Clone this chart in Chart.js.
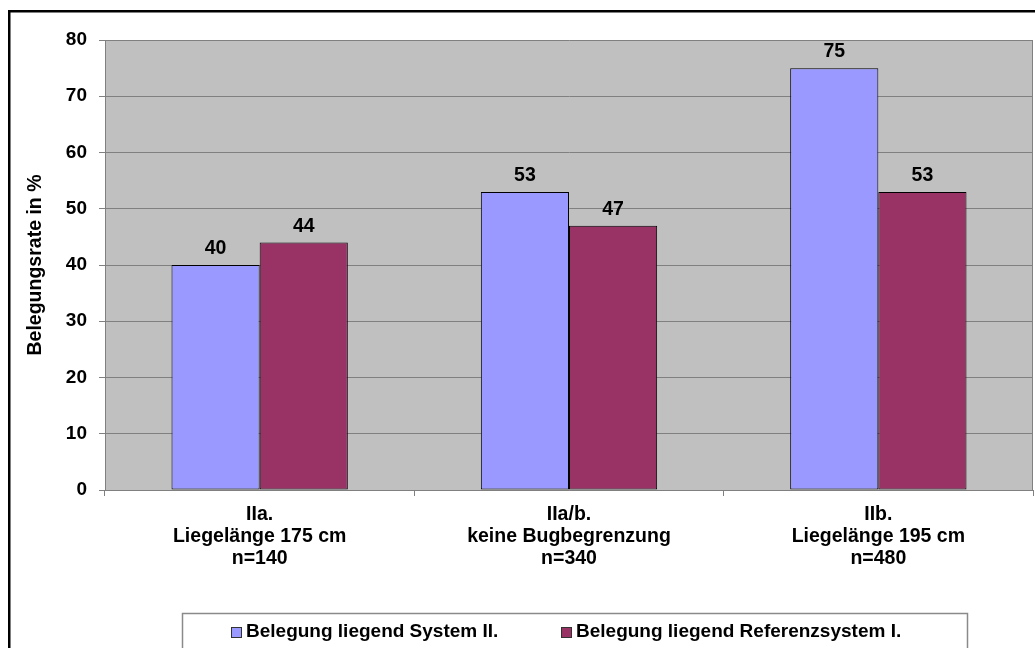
<!DOCTYPE html>
<html lang="de">
<head>
<meta charset="utf-8">
<title>Belegungsrate</title>
<script src="https://cdn.jsdelivr.net/npm/chart.js@4/dist/chart.umd.min.js"></script>
<style>
  html, body { margin: 0; padding: 0; background: #ffffff; overflow: hidden; }
  #wrap { position: relative; width: 1035px; height: 648px; }
</style>
</head>
<body>
<div id="wrap"><canvas id="chart"></canvas></div>
<script>
// Kategorien (mehrzeilige Achsenbeschriftung)
const categories = [
  ["IIa.", "Liegelänge 175 cm", "n=140"],
  ["IIa/b.", "keine Bugbegrenzung", "n=340"],
  ["IIb.", "Liegelänge 195 cm", "n=480"]
];
// Belegungsraten in %
const systemII = [40, 53, 75];
const referenzI = [44, 47, 53];
// Reihennamen
const seriesNames = ["Belegung liegend System II.", "Belegung liegend Referenzsystem I."];
const seriesColors = ["#9999FF", "#993366"];
// y-Achse
const yMin = 0, yMax = 80, yStep = 10;
const yTitle = "Belegungsrate in %";

const FONT = "'Liberation Sans', Arial, sans-serif";

// Rahmen, Hintergrund der Zeichenfläche, Werte über den Balken und Legende
const decor = {
  id: 'decor',
  beforeDraw(chart) {
    const { ctx, chartArea: a } = chart;
    ctx.save();
    ctx.fillStyle = '#C0C0C0';
    ctx.fillRect(a.left, a.top, a.right - a.left, a.bottom - a.top);
    // äußerer Rahmen
    ctx.fillStyle = '#000000';
    ctx.fillRect(8, 10, chart.width, 2.5);
    ctx.fillRect(8, 10, 2.5, chart.height);
    ctx.restore();
  },
  afterDraw(chart) {
    const { ctx, chartArea: a } = chart;
    ctx.save();
    // rechte Begrenzung der Zeichenfläche
    ctx.strokeStyle = '#808080';
    ctx.lineWidth = 1;
    ctx.beginPath();
    ctx.moveTo(Math.round(a.right) - 0.5, a.top);
    ctx.lineTo(Math.round(a.right) - 0.5, a.bottom);
    ctx.stroke();

    // Legende
    const lx = 182.5, ly = 613.5, lw = 785, lh = 60;
    ctx.fillStyle = '#ffffff';
    ctx.fillRect(lx, ly, lw, lh);
    ctx.strokeStyle = '#8a8a8a';
    ctx.lineWidth = 1.5;
    ctx.strokeRect(lx, ly, lw, lh);
    const items = [{ sx: 231, tx: 246 }, { sx: 561, tx: 576 }];
    ctx.font = `bold 19px ${FONT}`;
    ctx.textBaseline = 'middle';
    ctx.textAlign = 'left';
    chart.data.datasets.forEach((ds, i) => {
      const it = items[i];
      ctx.fillStyle = ds.backgroundColor;
      ctx.fillRect(it.sx + 0.5, 627.5, 10, 10);
      ctx.strokeStyle = '#333333';
      ctx.lineWidth = 1;
      ctx.strokeRect(it.sx + 0.5, 627.5, 10, 10);
      ctx.fillStyle = '#000000';
      ctx.fillText(ds.label, it.tx, 632);
    });
    ctx.restore();
  },
  afterDatasetsDraw(chart) {
    const { ctx } = chart;
    ctx.save();
    ctx.font = `bold 19.5px ${FONT}`;
    ctx.fillStyle = '#000000';
    ctx.textAlign = 'center';
    ctx.textBaseline = 'alphabetic';
    chart.data.datasets.forEach((ds, di) => {
      const meta = chart.getDatasetMeta(di);
      meta.data.forEach((bar, i) => {
        ctx.fillText(String(ds.data[i]), bar.x, bar.y - 11);
      });
    });
    ctx.restore();
  }
};

new Chart(document.getElementById('chart'), {
  type: 'bar',
  data: {
    labels: categories,
    datasets: [
      { label: seriesNames[0], data: systemII, backgroundColor: seriesColors[0] },
      { label: seriesNames[1], data: referenzI, backgroundColor: seriesColors[1] }
    ]
  },
  options: {
    responsive: true,
    maintainAspectRatio: false,
    animation: false,
    devicePixelRatio: 1,
    layout: { padding: { top: 40, right: 2, bottom: 0, left: 0 } },
    datasets: {
      bar: {
        categoryPercentage: 0.57,
        barPercentage: 1.0,
        borderColor: '#000000',
        borderWidth: 1,
        borderSkipped: false
      }
    },
    plugins: {
      legend: { display: false },
      tooltip: { enabled: false },
      title: { display: false }
    },
    scales: {
      x: {
        offset: true,
        grid: {
          drawOnChartArea: false,
          drawTicks: true,
          tickLength: 6,
          color: '#808080',
          lineWidth: 1
        },
        border: { display: true, color: '#808080', width: 1 },
        ticks: {
          color: '#000000',
          padding: 8,
          maxRotation: 0,
          autoSkip: false,
          font: { family: FONT, size: 19.5, weight: 'bold', lineHeight: 1.13 }
        },
        afterFit(scale) { scale.height = 158; }
      },
      y: {
        min: yMin,
        max: yMax,
        grid: {
          color: '#808080',
          lineWidth: 1,
          drawTicks: true,
          tickLength: 6
        },
        border: { display: true, color: '#808080', width: 1 },
        ticks: {
          stepSize: yStep,
          color: '#000000',
          padding: 12,
          font: { family: FONT, size: 19, weight: 'bold' }
        },
        title: {
          display: true,
          text: yTitle,
          color: '#000000',
          padding: { top: 24, bottom: 0 },
          font: { family: FONT, size: 19.5, weight: 'bold' }
        },
        afterFit(scale) { scale.width = 105; }
      }
    }
  },
  plugins: [decor]
});
</script>
</body>
</html>
